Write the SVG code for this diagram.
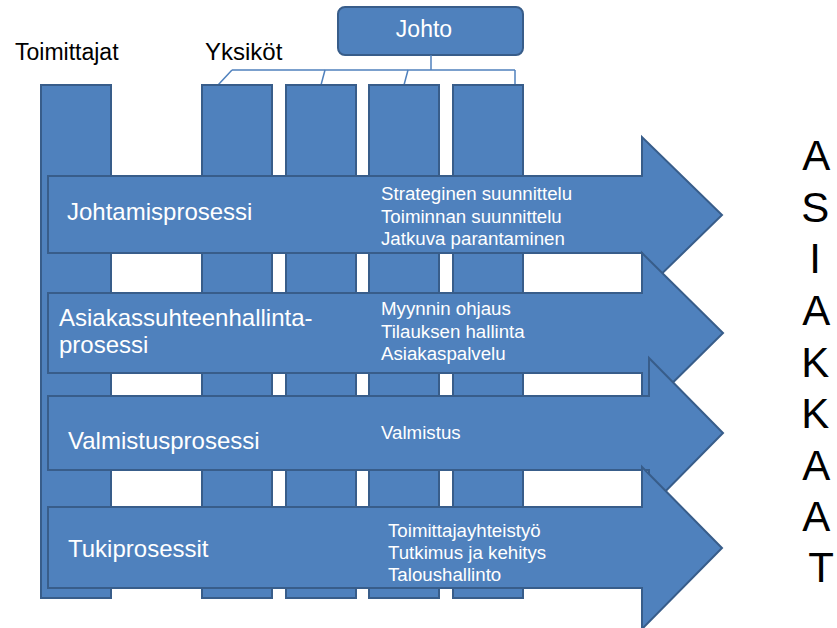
<svg xmlns="http://www.w3.org/2000/svg" width="837" height="628" viewBox="0 0 837 628">
  <style>
    .shape { fill: #4F81BD; stroke: #385D8A; stroke-width: 2; }
    .conn { fill: none; stroke: #4F81BD; stroke-width: 1.5; }
    text { font-family: "Liberation Sans", Arial, sans-serif; }
    .dark { fill: #000000; }
    .big { fill: #FFFFFF; font-size: 24px; }
    .small { fill: #FFFFFF; font-size: 18.7px; }
  </style>
  <rect width="837" height="628" fill="#FFFFFF"/>

  <!-- headings -->
  <text class="dark" x="15" y="60" font-size="23">Toimittajat</text>
  <text class="dark" x="205" y="60" font-size="24">Yksiköt</text>

  <!-- management box -->
  <g id="johto">
    <rect class="shape" x="338" y="7" width="185" height="48" rx="7"/>
    <text x="424" y="37" font-size="23" fill="#FFFFFF" text-anchor="middle">Johto</text>
  </g>

  <!-- org lines from management to the units -->
  <g id="connectors">
    <path class="conn" d="M431,55 V70"/>
    <path class="conn" d="M232,70 H515"/>
    <path class="conn" d="M232,70 L218,85"/>
    <path class="conn" d="M325,70 L321,85"/>
    <path class="conn" d="M408,70 L404,85"/>
    <path class="conn" d="M515,70 V85"/>
  </g>

  <!-- vertical columns -->
  <g id="toimittajat"><rect class="shape" x="41" y="85" width="70" height="513"/></g>
  <g id="yksikko1"><rect class="shape" x="202" y="85" width="70" height="513"/></g>
  <g id="yksikko2"><rect class="shape" x="286" y="85" width="70" height="513"/></g>
  <g id="yksikko3"><rect class="shape" x="369" y="85" width="70" height="513"/></g>
  <g id="yksikko4"><rect class="shape" x="453" y="85" width="70" height="513"/></g>

  <!-- process arrows -->
  <g id="johtamisprosessi">
    <path class="shape" d="M48,176 H642 V137 L722,215 L642,293 V253 H48 Z"/>
    <text class="big" x="67" y="220">Johtamisprosessi</text>
    <text class="small" x="381" y="200">Strateginen suunnittelu</text>
    <text class="small" x="381" y="223">Toiminnan suunnittelu</text>
    <text class="small" x="381" y="245">Jatkuva parantaminen</text>
  </g>
  <g id="asiakassuhteenhallintaprosessi">
    <path class="shape" d="M48,293 H642 V253 L723,333 L642,413 V373 H48 Z"/>
    <text class="big" x="59" y="326">Asiakassuhteenhallinta-</text>
    <text class="big" x="59" y="353">prosessi</text>
    <text class="small" x="381" y="315">Myynnin ohjaus</text>
    <text class="small" x="381" y="338">Tilauksen hallinta</text>
    <text class="small" x="381" y="360">Asiakaspalvelu</text>
  </g>
  <g id="valmistusprosessi">
    <path class="shape" d="M48,396 H649 V358 L723,433 L649,508 V470 H48 Z"/>
    <text class="big" x="68" y="449">Valmistusprosessi</text>
    <text class="small" x="381" y="439">Valmistus</text>
  </g>
  <g id="tukiprosessit">
    <path class="shape" d="M48,507 H642 V467 L722,548 L642,629 V588 H48 Z"/>
    <text class="big" x="68" y="557">Tukiprosessit</text>
    <text class="small" x="388" y="537">Toimittajayhteistyö</text>
    <text class="small" x="388" y="559">Tutkimus ja kehitys</text>
    <text class="small" x="388" y="581">Taloushallinto</text>
  </g>

  <!-- customers, written vertically -->
  <text class="dark" font-size="42" text-anchor="middle">
    <tspan x="821" y="170">A</tspan>
    <tspan x="821" y="222">S</tspan>
    <tspan x="821" y="273">I</tspan>
    <tspan x="821" y="325">A</tspan>
    <tspan x="821" y="377">K</tspan>
    <tspan x="821" y="428">K</tspan>
    <tspan x="821" y="480">A</tspan>
    <tspan x="821" y="531">A</tspan>
    <tspan x="821" y="582">T</tspan>
  </text>
</svg>
